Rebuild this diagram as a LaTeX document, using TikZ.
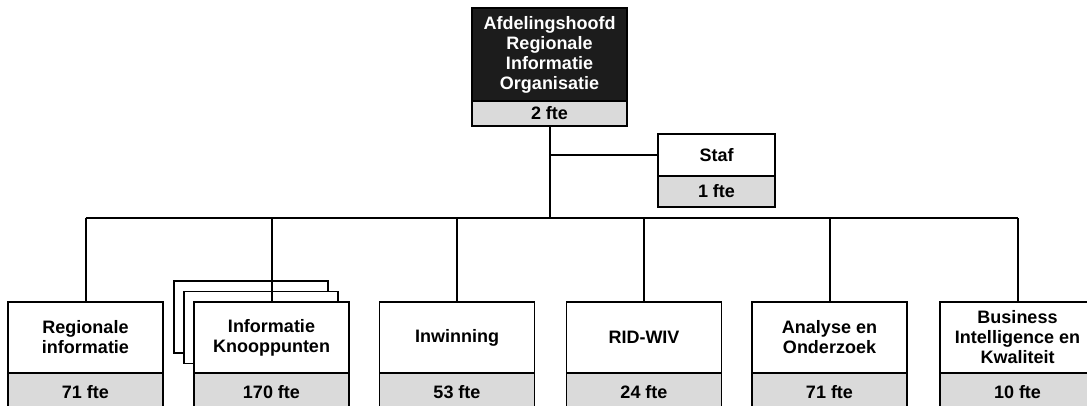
\documentclass[tikz,border=0pt]{standalone}
\usepackage{fontspec}
\setmainfont{Liberation Sans}
\definecolor{bandgray}{HTML}{DADADA}
\definecolor{darkbox}{HTML}{1C1C1C}
\tikzset{
  boxtext/.style={font=\bfseries\fontsize{18}{20}\selectfont},
  upperbox/.style={draw=black, line width=1.5pt, fill=white, inner sep=0pt, outer sep=0pt,
    minimum width=155pt, minimum height=71pt, align=center, boxtext},
  lowerbox/.style={draw=black, line width=1.5pt, fill=bandgray, inner sep=0pt, outer sep=0pt,
    minimum width=155pt, minimum height=38pt, align=center, boxtext},
  backbox/.style={draw=black, line width=1.5pt, fill=white, inner sep=0pt, outer sep=0pt,
    minimum width=154pt, minimum height=72pt},
  conn/.style={draw=black, line width=2pt},
}
\begin{document}
\begin{tikzpicture}[x=1pt,y=-1pt]
\useasboundingbox (0,0) rectangle (1087,405);
\clip (0,0) rectangle (1087,405);
\fill[white] (0,0) rectangle (1087,405);
\coordinate (bus) at (0,218);

% top box
\node[upperbox, fill=darkbox, text=white, minimum width=155pt, minimum height=93pt] (top) at (549.5,54.5)
  {Afdelingshoofd\\Regionale\\Informatie\\Organisatie};
\node[lowerbox, minimum width=155pt, minimum height=25pt] (toplow) at (549.5,113.5) {2 fte};

% staf
\node[upperbox, minimum width=117pt, minimum height=42pt] (staf) at (716.5,155) {Staf};
\node[lowerbox, minimum width=117pt, minimum height=31pt] (staflow) at (716.5,191.5) {1 fte};

% stacked back boxes
\node[backbox] (back1) at (251,317) {};
\node[backbox] (back2) at (261,327.5) {};

% bottom boxes
\node[upperbox] (reg) at (85.5,337.5) {Regionale\\informatie};
\node[lowerbox] (reglow) at (85.5,392) {71 fte};
\node[upperbox] (ik) at (271.5,337.5) {Informatie\\Knooppunten};
\node[lowerbox] (iklow) at (271.5,392) {170 fte};
\node[upperbox] (inw) at (457,337.5) {Inwinning};
\node[lowerbox] (inwlow) at (457,392) {53 fte};
\node[upperbox] (rid) at (644,337.5) {RID-WIV};
\node[lowerbox] (ridlow) at (644,392) {24 fte};
\node[upperbox] (ana) at (829.5,337.5) {Analyse en\\Onderzoek};
\node[lowerbox] (analow) at (829.5,392) {71 fte};
\node[upperbox] (bi) at (1017.5,337.5) {Business\\Intelligence en\\Kwaliteit};
\node[lowerbox] (bilow) at (1017.5,392) {10 fte};

% connectors
\draw[conn] (toplow.south) -- (toplow.south |- bus);
\draw[conn] (staf.west) -- (staf.west -| toplow.south);
\draw[conn] (reg.north |- bus) -- (bi.north |- bus);
\draw[conn] (reg.north) -- (reg.north |- bus);
\draw[conn] (ik.north) -- (ik.north |- bus);
\draw[conn] (inw.north) -- (inw.north |- bus);
\draw[conn] (rid.north) -- (rid.north |- bus);
\draw[conn] (ana.north) -- (ana.north |- bus);
\draw[conn] (bi.north) -- (bi.north |- bus);
\end{tikzpicture}
\end{document}
